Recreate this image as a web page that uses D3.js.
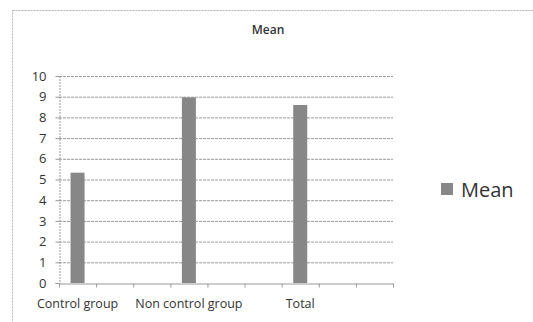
<!DOCTYPE html>
<html>
<head>
    <meta charset="utf-8">
    <script src="https://d3js.org/d3.v7.min.js"></script>
    <style>
        body { margin: 0; background: #fff; font-family: "Open Sans", sans-serif; }
    </style>
</head>
<body>
<script>
    // data
    var categories = ["Control group", "c2", "c3", "Non control group", "c5", "c6", "Total", "c8", "c9"];
    var labels = ["Control group", "", "", "Non control group", "", "", "Total", "", ""];
    var meanValues = [5.33, null, null, 8.97, null, null, 8.6, null, null];
    var yTicks = [0, 1, 2, 3, 4, 5, 6, 7, 8, 9, 10];
    var seriesName = "Mean";

    var W = 533, H = 322;
    var plot = {left: 59, right: 393, top: 76, bottom: 283};

    var svg = d3.select("body").append("svg").attr("width", W).attr("height", H);

    // chart frame
    svg.append("rect")
        .attr("x", 12.5).attr("y", 10.5)
        .attr("width", 530).attr("height", 330)
        .attr("fill", "#fff")
        .attr("stroke", "#b4b4b4")
        .attr("stroke-dasharray", "2,1");

    var x = d3.scaleBand().domain(categories).range([plot.left, plot.right]).paddingInner(0).paddingOuter(0);
    var y = d3.scaleLinear().domain([0, 10]).range([plot.bottom, plot.top]);

    // gridlines
    svg.append("g").selectAll("line")
        .data(yTicks.filter(function(d) { return d > 0; }))
        .enter().append("line")
        .attr("x1", plot.left).attr("x2", plot.right)
        .attr("y1", function(d) { return y(d) + 0.5; })
        .attr("y2", function(d) { return y(d) + 0.5; })
        .attr("stroke", "#9a9a9a")
        .attr("stroke-width", 1)
        .attr("stroke-dasharray", "3,1");

    // y axis
    var yAxis = svg.append("g")
        .attr("transform", "translate(" + (plot.left + 0.5) + ",0)")
        .call(d3.axisLeft(y).tickValues(yTicks).tickSize(4).tickPadding(9));
    yAxis.select(".domain").attr("stroke", "#999").attr("stroke-dasharray", "2,1");
    yAxis.selectAll(".tick line").attr("stroke", "#999");
    yAxis.selectAll("text")
        .attr("fill", "#333")
        .style("font-family", "Open Sans, sans-serif")
        .style("font-size", "13px");

    // x axis
    var xAxis = svg.append("g")
        .attr("transform", "translate(0," + (plot.bottom + 0.5) + ")")
        .call(d3.axisBottom(x).tickSize(0).tickPadding(16).tickFormat(function(d, i) { return labels[i]; }));
    xAxis.select(".domain").attr("stroke", "#999");
    xAxis.selectAll("text")
        .attr("fill", "#333")
        .style("font-family", "Open Sans, sans-serif")
        .style("font-size", "12.5px");
    // category boundary ticks
    xAxis.selectAll(".sep")
        .data(categories.concat(["end"]))
        .enter().append("line")
        .attr("class", "sep")
        .attr("x1", function(d, i) { return plot.left + i * x.bandwidth() + 0.5; })
        .attr("x2", function(d, i) { return plot.left + i * x.bandwidth() + 0.5; })
        .attr("y1", 0).attr("y2", 4)
        .attr("stroke", "#999");

    // bars
    var barW = 14;
    svg.append("g").selectAll("rect")
        .data(categories.map(function(c, i) { return {cat: c, v: meanValues[i]}; })
              .filter(function(d) { return d.v !== null; }))
        .enter().append("rect")
        .attr("x", function(d) { return x(d.cat) + x.bandwidth() / 2 - barW / 2; })
        .attr("width", barW)
        .attr("y", function(d) { return y(d.v); })
        .attr("height", function(d) { return plot.bottom - y(d.v); })
        .attr("fill", "#878787");

    // title
    svg.append("text")
        .attr("x", 268).attr("y", 34)
        .attr("text-anchor", "middle")
        .attr("fill", "#333")
        .style("font-size", "12px")
        .style("font-weight", "600")
        .text(seriesName);

    // legend
    svg.append("rect")
        .attr("x", 441).attr("y", 183)
        .attr("width", 12).attr("height", 12)
        .attr("fill", "#878787");
    svg.append("text")
        .attr("x", 461).attr("y", 197)
        .attr("fill", "#333")
        .style("font-size", "20px")
        .text(seriesName);
</script>
</body>
</html>
